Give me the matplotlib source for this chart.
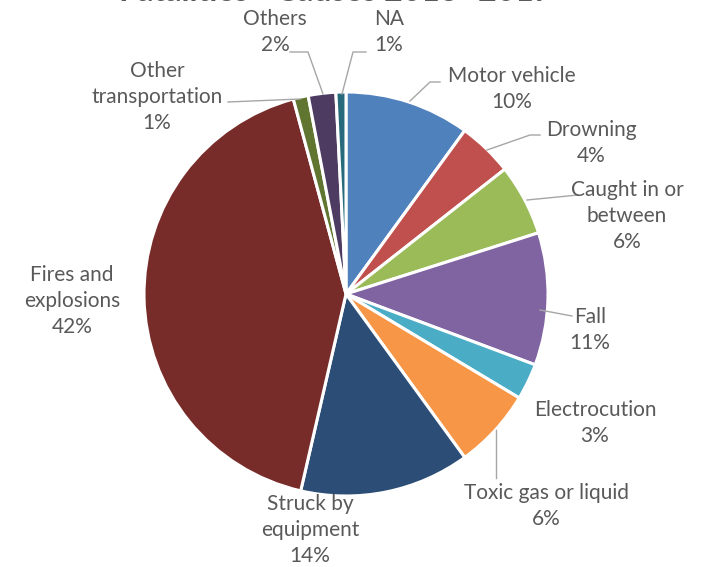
import matplotlib.pyplot as plt

# Slice data, clockwise from 12 o'clock
causes = ["Motor vehicle", "Drowning", "Caught in or\nbetween", "Fall", "Electrocution",
          "Toxic gas or liquid", "Struck by\nequipment", "Fires and\nexplosions",
          "Other\ntransportation", "Others", "NA"]
shares = [10.0, 4.4, 5.7, 10.6, 2.9, 6.4, 13.6, 42.2, 1.2, 2.2, 0.8]
colours = ["#4F81BD", "#C0504D", "#9BBB59", "#8064A2", "#4BACC6", "#F79646",
           "#2C4D75", "#772C2A", "#5F7530", "#4D3B62", "#276A7C"]
title = "Fatalities - Causes 2013- 2017"

W, H = 713, 567
TEXT = "#595959"
LINE = "#A6A6A6"

# label centre (px) and leader line (px) for each slice
label_pos = [(512, 89), (591, 143), (627, 216), (590, 330), (595, 423), (546, 506),
             (310, 530), (72, 301), (157, 97), (275, 32), (389, 32)]
leaders = [
  [(410, 101), (430, 82), (440, 82)],
  [(487, 150), (530, 135), (540, 135)],
  [(527, 200), (578, 195)],
  [(540, 310), (572, 316)],
  [],
  [(496, 430), (496, 478)],
  [],
  [],
  [(300, 99), (228, 102)],
  [(323, 94), (308, 52), (290, 52)],
  [(342, 94), (353, 52), (366, 52)],
]

plt.rcParams['font.family'] = ['Lato', 'DejaVu Sans']

fig = plt.figure(figsize=(W / 100, H / 100), dpi=100)
ax = fig.add_axes([0, 0, 1, 1])

ax.pie(shares, colors=colours, startangle=90, counterclock=False,
       center=(346, H - 294), radius=202,
       wedgeprops=dict(edgecolor="white", linewidth=2.2))

# pie() resets the limits, so set them afterwards
ax.set_xlim(0, W)
ax.set_ylim(0, H)
ax.set_aspect("equal")
ax.axis("off")

for name, share, (x, y) in zip(causes, shares, label_pos):
  ax.text(x, H - y, f"{name}\n{share:.0f}%", ha="center", va="center",
          fontsize=15, color=TEXT, linespacing=1.4)

for pts in leaders:
  if pts:
    xs = [p[0] for p in pts]
    ys = [H - p[1] for p in pts]
    ax.plot(xs, ys, color=LINE, linewidth=1)

# title sits mostly above the canvas, only the bottoms of the letters show
ax.text(336, H - 1, title, ha="center", va="baseline", fontsize=23,
        fontweight="bold", color=TEXT, clip_on=False)

fig.savefig("out.png", dpi=100)
